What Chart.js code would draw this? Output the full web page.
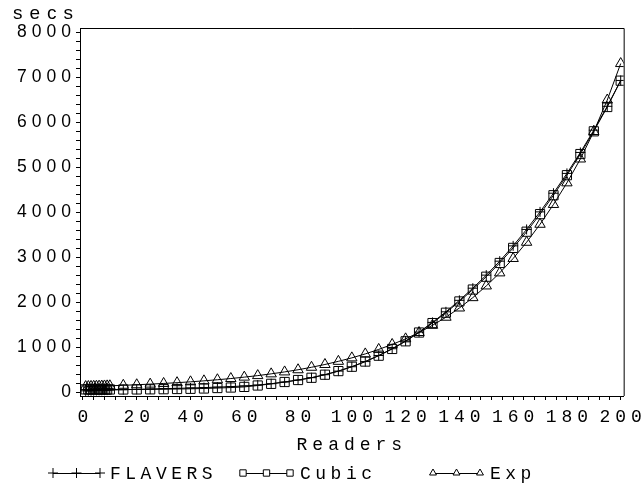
<!DOCTYPE html>
<html>
<head>
<meta charset="utf-8">
<script src="https://cdn.jsdelivr.net/npm/chart.js@4.4.1/dist/chart.umd.min.js"></script>
<style>
  html, body { margin: 0; padding: 0; background: #fff; }
  #wrap { width: 643px; height: 486px; position: relative; }
</style>
</head>
<body>
<div id="wrap"><canvas id="chart"></canvas></div>
<script>
// number of readers
const readers = [1, 2, 3, 4, 5, 6, 7, 8, 9, 10,
    15, 20, 25, 30, 35, 40, 45, 50, 55, 60, 65, 70, 75, 80, 85, 90, 95, 100,
    105, 110, 115, 120, 125, 130, 135, 140, 145, 150, 155, 160, 165, 170, 175, 180,
    185, 190, 195, 200];

const flavers = [40, 42, 44, 46, 48, 50, 52, 54, 56, 58,
    65, 72, 80, 88, 95, 103, 112, 122, 134, 148, 168, 198, 236, 280, 332, 398, 478, 575,
    690, 825, 975, 1148, 1345, 1560, 1795, 2050, 2320, 2610, 2920, 3260, 3625, 4015, 4430, 4870,
    5335, 5830, 6360, 6935];

const cubic = [72, 71, 71, 70, 70, 70, 70, 70, 70, 70,
    70, 71, 73, 76, 80, 85, 92, 102, 113, 127, 158, 195, 236, 280, 330, 398, 478, 575,
    690, 820, 970, 1140, 1335, 1545, 1775, 2025, 2290, 2575, 2880, 3215, 3575, 3965, 4385, 4830,
    5300, 5805, 6345, 6930];

const expFit = [134, 136, 138, 140, 142, 144, 146, 148, 150, 152,
    163, 175, 189, 204, 221, 240, 262, 286, 313, 344, 378, 417, 460, 508, 563, 625, 695, 772,
    860, 960, 1070, 1195, 1335, 1495, 1675, 1880, 2110, 2370, 2660, 2980, 3340, 3740, 4180, 4660,
    5190, 5800, 6500, 7310];

const xTickLabels = [0, 20, 40, 60, 80, 100, 120, 140, 160, 180, 200];
const yTickLabels = [0, 1000, 2000, 3000, 4000, 5000, 6000, 7000, 8000];

const pts = (ys) => readers.map((r, i) => ({ x: r, y: ys[i] }));

const series = [
    { label: 'FLAVERS', data: pts(flavers), pointStyle: 'cross', pointRadius: 5, legendRadius: 5 },
    { label: 'Cubic', data: pts(cubic), pointStyle: 'rect', pointRadius: 6.5, legendRadius: 4.5 },
    { label: 'Exp', data: pts(expFit), pointStyle: 'triangle', pointRadius: 6, legendRadius: 4 }
];

// top/right frame lines, SAS-style legend and the "secs" label
const framePlugin = {
    id: 'frame',
    beforeDraw(chart) {
        chart.ctx.letterSpacing = '5px';
    },
    afterDraw(chart) {
        const ctx = chart.ctx;
        const a = chart.chartArea;
        ctx.save();
        ctx.strokeStyle = '#000';
        ctx.lineWidth = 1;
        ctx.beginPath();
        ctx.moveTo(a.left, a.top + 0.5);
        ctx.lineTo(a.right + 0.5, a.top + 0.5);
        ctx.lineTo(a.right + 0.5, a.bottom);
        ctx.stroke();

        ctx.fillStyle = '#000';
        ctx.letterSpacing = '7px';
        ctx.font = '19px "Liberation Sans"';
        ctx.textBaseline = 'middle';
        ctx.textAlign = 'left';
        ctx.fillText('secs', 13, 14);

        const y = 473;
        const starts = [53, 243, 433];
        ctx.letterSpacing = '4.5px';
        ctx.font = '18px "Liberation Mono"';
        chart.data.datasets.forEach((ds, i) => {
            const x0 = starts[i];
            ctx.beginPath();
            ctx.moveTo(x0, y + 0.5);
            ctx.lineTo(x0 + 47, y + 0.5);
            ctx.stroke();
            ctx.fillStyle = '#fff';
            [0, 23.5, 47].forEach(dx => {
                Chart.helpers.drawPoint(ctx, {
                    pointStyle: ds.pointStyle,
                    radius: series[i].legendRadius,
                    borderWidth: 1,
                    rotation: 0
                }, x0 + dx, y);
            });
            ctx.fillStyle = '#000';
            ctx.fillText(ds.label, x0 + 57, y + 1);
        });
        ctx.restore();
        ctx.letterSpacing = '0px';
    }
};

const xMinor = [];
for (let v = 0; v <= 200; v += 4) xMinor.push(v);
const yMinor = [];
for (let v = 0; v <= 8000; v += 200) yMinor.push(v);

new Chart(document.getElementById('chart'), {
    type: 'line',
    data: {
        datasets: series.map(s => ({
            label: s.label,
            data: s.data,
            borderColor: '#000',
            backgroundColor: 'rgba(0,0,0,0)',
            borderWidth: 1,
            pointStyle: s.pointStyle,
            pointRadius: s.pointRadius,
            pointBorderWidth: 1,
            pointBorderColor: '#000',
            pointBackgroundColor: 'rgba(0,0,0,0)',
            tension: 0,
            fill: false
        }))
    },
    options: {
        responsive: true,
        maintainAspectRatio: false,
        animation: false,
        layout: {
            autoPadding: false,
            padding: { left: 0, right: 18, top: 28, bottom: 30 }
        },
        plugins: {
            legend: { display: false },
            tooltip: { enabled: false }
        },
        scales: {
            x: {
                type: 'linear',
                min: -1.1,
                max: 201.1,
                afterBuildTicks: (s) => { s.ticks = xMinor.map(v => ({ value: v })); },
                afterFit: (s) => { s.height = 60; },
                ticks: {
                    autoSkip: false,
                    maxRotation: 0,
                    padding: 6,
                    labelOffset: 2.5,
                    color: '#000',
                    font: { family: 'Liberation Mono', size: 18 },
                    callback: (v) => xTickLabels.includes(v) ? String(v) : ''
                },
                grid: { drawOnChartArea: false, tickLength: 4, color: '#000' },
                border: { display: true, color: '#000', width: 1 },
                title: {
                    display: true,
                    text: 'Readers',
                    color: '#000',
                    padding: { top: 0, bottom: 0 },
                    font: { family: 'Liberation Mono', size: 18 }
                }
            },
            y: {
                type: 'linear',
                min: -75,
                max: 8100,
                afterBuildTicks: (s) => { s.ticks = yMinor.map(v => ({ value: v })); },
                afterFit: (s) => { s.width = 80; },
                ticks: {
                    autoSkip: false,
                    padding: 0,
                    color: '#000',
                    font: { family: 'Liberation Sans', size: 17.5 },
                    callback: (v) => yTickLabels.includes(v) ? String(v) : ''
                },
                grid: { drawOnChartArea: false, tickLength: 4, color: '#000' },
                border: { display: true, color: '#000', width: 1 }
            }
        }
    },
    plugins: [framePlugin]
});
</script>
</body>
</html>
